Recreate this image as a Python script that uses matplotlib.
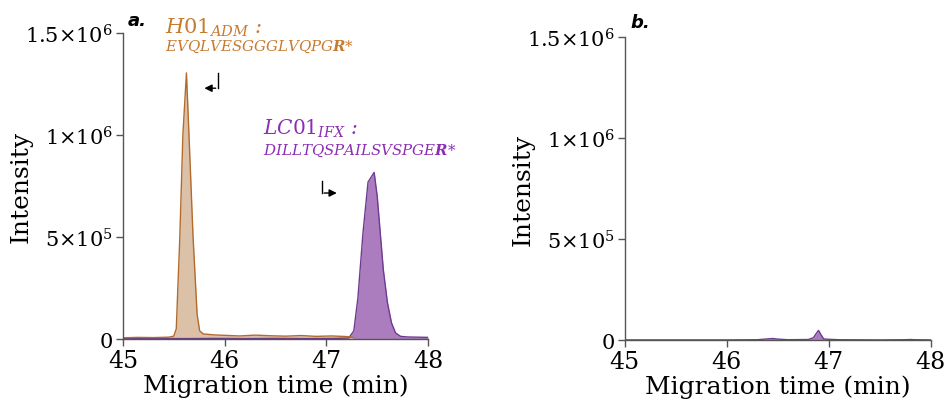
import matplotlib
matplotlib.use("Agg")
import matplotlib.pyplot as plt

# Panel a: H01 (adalimumab) trace
adm_time = [45.0, 45.15, 45.3, 45.45, 45.50, 45.525, 45.56, 45.59, 45.625, 45.65, 45.69,
            45.73, 45.755, 45.79, 45.9, 46.0, 46.15, 46.3, 46.45, 46.6, 46.75, 46.9, 47.05,
            47.2, 47.26]
adm_int = [6e3, 8e3, 7e3, 9e3, 1.4e4, 5e4, 5.0e5, 1.0e6, 1.305e6, 1.0e6, 5.0e5,
           1.2e5, 4e4, 2.5e4, 2.0e4, 1.8e4, 1.5e4, 1.9e4, 1.6e4, 1.4e4, 1.7e4, 1.3e4, 1.5e4,
           1.2e4, 8e3]

# Panel a: LC01 (infliximab) trace
ifx_time = [45.0, 45.3, 45.6, 45.9, 46.2, 46.5, 46.8, 47.1, 47.22, 47.27, 47.31, 47.36,
            47.41, 47.47, 47.5, 47.53, 47.56, 47.6, 47.64, 47.68, 47.73, 47.8, 47.9, 48.0]
ifx_int = [2e3, 3e3, 2e3, 3e3, 2e3, 3e3, 2e3, 3e3, 5e3, 4e4, 2.0e5, 5.2e5,
           7.7e5, 8.17e5, 7.0e5, 5.2e5, 3.4e5, 1.8e5, 8e4, 3e4, 1.3e4, 1e4, 9e3, 8e3]

# Panel b: blank trace
b_time = [45.0, 45.5, 46.0, 46.3, 46.4, 46.45, 46.5, 46.6, 46.8, 46.85, 46.88, 46.9,
          46.92, 46.95, 47.0, 47.1, 47.5, 47.75, 47.8, 47.85, 48.0]
b_int = [1e3, 1e3, 1e3, 2e3, 6e3, 8e3, 5e3, 2e3, 3e3, 1.2e4, 3.5e4, 4.8e4,
         3.0e4, 6e3, 4e3, 2e3, 1e3, 2e3, 3e3, 2e3, 1e3]

x_ticks = [45, 46, 47, 48]
y_ticks = [0, 5e5, 1e6, 1.5e6]
y_ticklabels = ["0", r"$5{\times}10^5$", r"$1{\times}10^6$", r"$1.5{\times}10^6$"]

orange_line = "#b36b2c"
orange_fill = "#dcc1a9"
orange_text = "#c77b31"
purple_line = "#6f3a8f"
purple_fill = "#ab7dbf"
purple_text = "#8c2db3"

plt.rcParams["font.family"] = "DejaVu Serif"
plt.rcParams["mathtext.fontset"] = "dejavuserif"

fig = plt.figure(figsize=(9.45, 4.1), dpi=100)
ax1 = fig.add_axes([0.130, 0.1707, 0.323, 0.746])
ax2 = fig.add_axes([0.661, 0.168, 0.324, 0.739])


def style_axes(ax):
    ax.set_xlim(45, 48)
    ax.set_ylim(0, 1.5e6)
    ax.spines["top"].set_visible(False)
    ax.spines["right"].set_visible(False)
    for s in ["left", "bottom"]:
        ax.spines[s].set_color("#555555")
        ax.spines[s].set_linewidth(1.0)
    ax.set_xticks(x_ticks)
    ax.set_xticklabels([str(t) for t in x_ticks], fontsize=17)
    ax.set_yticks(y_ticks)
    ax.set_yticklabels(y_ticklabels, fontsize=15)
    ax.tick_params(direction="out", length=5, width=1, color="#555555", pad=2)
    ax.set_xlabel("Migration time (min)", fontsize=18, labelpad=1)
    ax.set_ylabel("Intensity", fontsize=18)
    ax.yaxis.set_label_coords(-0.295, 0.5)


# panel a
ax1.fill_between(ifx_time, ifx_int, color=purple_fill, lw=0)
ax1.plot(ifx_time, ifx_int, color=purple_line, lw=1)
ax1.fill_between(adm_time, adm_int, color=orange_fill, lw=0)
ax1.plot(adm_time, adm_int, color=orange_line, lw=1)
style_axes(ax1)

ax1.text(0.017, 1.026, "a.", transform=ax1.transAxes, fontsize=13, fontweight="bold",
         fontstyle="italic", family="DejaVu Sans", va="baseline")
ax1.text(0.138, 1.0, r"$\mathit{H01}_{\mathit{ADM}}$ :", transform=ax1.transAxes,
         fontsize=15, color=orange_text, fontstyle="italic", va="baseline")
ax1.text(0.138, 0.944, r"EVQLVESGGGLVQPG$\mathbfit{R}$*", transform=ax1.transAxes,
         fontsize=10.8, color=orange_text, fontstyle="italic", va="baseline")
ax1.text(0.459, 0.672, r"$\mathit{LC01}_{\mathit{IFX}}$ :", transform=ax1.transAxes,
         fontsize=14.5, color=purple_text, fontstyle="italic", va="baseline")
ax1.text(0.459, 0.607, r"DILLTQSPAILSVSPGE$\mathbfit{R}$*", transform=ax1.transAxes,
         fontsize=10.8, color=purple_text, fontstyle="italic", va="baseline")

# bent arrows pointing at the peaks
ax1.plot([45.937, 45.937], [1.304e6, 1.23e6], color="black", lw=1)
ax1.annotate("", xy=(45.774, 1.23e6), xytext=(45.94, 1.23e6),
             arrowprops=dict(arrowstyle="-|>", color="black", lw=1, mutation_scale=11))
ax1.plot([46.954, 46.954], [0.776e6, 0.716e6], color="black", lw=1)
ax1.annotate("", xy=(47.13, 0.716e6), xytext=(46.951, 0.716e6),
             arrowprops=dict(arrowstyle="-|>", color="black", lw=1, mutation_scale=11))

# panel b
ax2.fill_between(b_time, b_int, color=purple_fill, lw=0)
ax2.plot(b_time, b_int, color=purple_line, lw=1)
style_axes(ax2)
ax2.text(0.019, 1.032, "b.", transform=ax2.transAxes, fontsize=13, fontweight="bold",
         fontstyle="italic", family="DejaVu Sans", va="baseline")

fig.savefig("out.png", dpi=100)
